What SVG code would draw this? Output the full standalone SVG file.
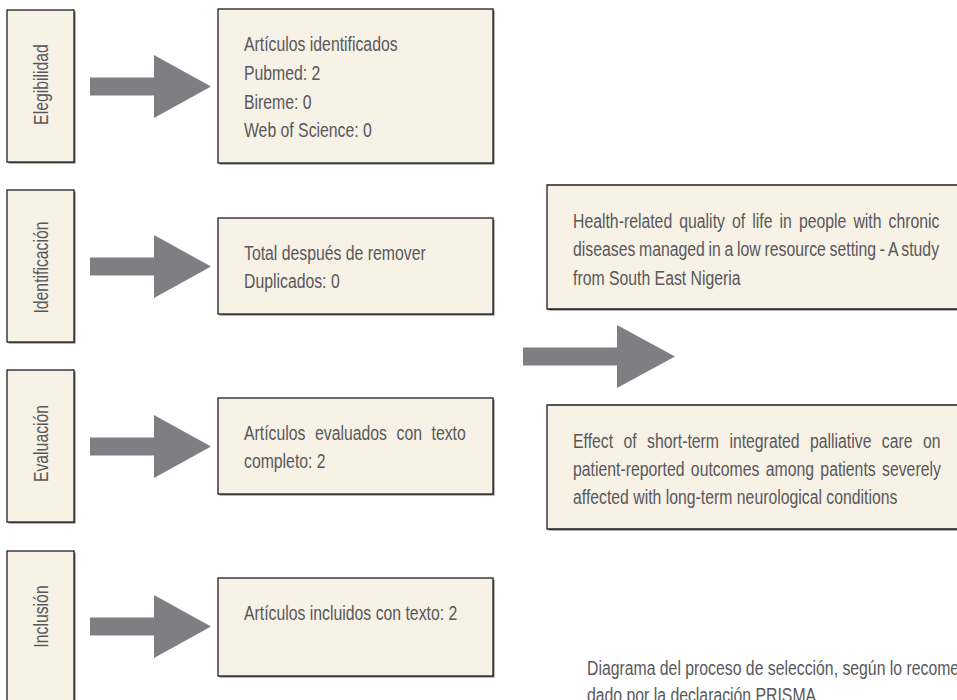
<svg xmlns="http://www.w3.org/2000/svg" width="957" height="700" viewBox="0 0 957 700">
  <style>
    .box { fill: #f7f1e6; stroke: #1f1f1f; stroke-width: 1.3; }
    .fill { fill: #f7f1e6; }
    .edge { fill: none; stroke: #1f1f1f; stroke-width: 1.3; }
    .shadow { fill: #6d6d6d; }
    .t { font-family: "Liberation Sans", Arial, sans-serif; font-size: 19.3px; fill: #58585b; }
    .lbl { text-anchor: middle; }
    .arrow { fill: #7f7f83; }
  </style>
  <defs>
    <path id="arr" d="M0,-9 H64 V-31.5 L121,0 L64,31.5 V9 H0 Z"/>
  </defs>
  <rect width="957" height="700" fill="#ffffff"/>

  <g id="lbl-elegibilidad">
    <rect class="shadow" x="8.5" y="11.5" width="67" height="152"/>
    <rect class="box" x="7" y="10" width="67" height="152"/>
    <text class="t lbl" transform="translate(48,84.5) rotate(-90) scale(0.8187,1)">Elegibilidad</text>
  </g>
  <g id="lbl-identificacion">
    <rect class="shadow" x="8.5" y="191.5" width="67" height="152"/>
    <rect class="box" x="7" y="190" width="67" height="152"/>
    <text class="t lbl" transform="translate(48,267.5) rotate(-90) scale(0.8187,1)">Identificación</text>
  </g>
  <g id="lbl-evaluacion">
    <rect class="shadow" x="8.5" y="371.5" width="67" height="152"/>
    <rect class="box" x="7" y="370" width="67" height="152"/>
    <text class="t lbl" transform="translate(48,443.5) rotate(-90) scale(0.8187,1)">Evaluación</text>
  </g>
  <g id="lbl-inclusion">
    <rect class="shadow" x="8.5" y="552.5" width="67" height="152"/>
    <rect class="box" x="7" y="551" width="67" height="152"/>
    <text class="t lbl" transform="translate(48,616.5) rotate(-90) scale(0.8187,1)">Inclusión</text>
  </g>

  <g id="box-identificados">
    <rect class="shadow" x="219.5" y="10.5" width="275" height="154"/>
    <rect class="box" x="218" y="9" width="275" height="154"/>
    <g transform="translate(244,0) scale(0.8187,1)">
      <text class="t" x="0" y="51.5">Artículos identificados</text>
      <text class="t" x="0" y="80">Pubmed: 2</text>
      <text class="t" x="0" y="109">Bireme: 0</text>
      <text class="t" x="0" y="137.5">Web of Science: 0</text>
    </g>
  </g>
  <g id="box-duplicados">
    <rect class="shadow" x="219.5" y="219.5" width="275" height="96"/>
    <rect class="box" x="218" y="218" width="275" height="96"/>
    <g transform="translate(244,0) scale(0.8187,1)">
      <text class="t" x="0" y="260">Total después de remover</text>
      <text class="t" x="0" y="288">Duplicados: 0</text>
    </g>
  </g>
  <g id="box-evaluados">
    <rect class="shadow" x="219.5" y="399.5" width="275" height="96"/>
    <rect class="box" x="218" y="398" width="275" height="96"/>
    <g transform="translate(244,0) scale(0.8187,1)">
      <text class="t" x="0" y="440" word-spacing="6.3">Artículos evaluados con texto</text>
      <text class="t" x="0" y="468">completo: 2</text>
    </g>
  </g>
  <g id="box-incluidos">
    <rect class="shadow" x="219.5" y="579.5" width="275" height="98"/>
    <rect class="box" x="218" y="578" width="275" height="98"/>
    <g transform="translate(244,0) scale(0.8187,1)">
      <text class="t" x="0" y="620">Artículos incluidos con texto: 2</text>
    </g>
  </g>

  <g id="box-study-1">
    <rect class="shadow" x="548.5" y="186.5" width="408.5" height="124"/>
    <rect class="fill" x="547" y="185" width="410" height="124"/>
    <path class="edge" d="M957,185 H547 V309 H957"/>
    <g transform="translate(573,0) scale(0.8187,1)">
      <text class="t" x="0" y="228" word-spacing="3.3">Health-related quality of life in people with chronic</text>
      <text class="t" x="0" y="256.5" word-spacing="-0.83">diseases managed in a low resource setting - A study</text>
      <text class="t" x="0" y="285">from South East Nigeria</text>
    </g>
  </g>
  <g id="box-study-2">
    <rect class="shadow" x="548.5" y="406.5" width="408.5" height="124"/>
    <rect class="fill" x="547" y="405" width="410" height="124"/>
    <path class="edge" d="M957,405 H547 V529 H957"/>
    <g transform="translate(573,0) scale(0.8187,1)">
      <text class="t" x="0" y="448" word-spacing="7.34">Effect of short-term integrated palliative care on</text>
      <text class="t" x="0" y="476.5" word-spacing="2.44">patient-reported outcomes among patients severely</text>
      <text class="t" x="0" y="504">affected with long-term neurological conditions</text>
    </g>
  </g>

  <g id="connectors">
    <use href="#arr" class="arrow" transform="translate(90,86.5)"/>
    <use href="#arr" class="arrow" transform="translate(90,266.5)"/>
    <use href="#arr" class="arrow" transform="translate(90,446.5)"/>
    <use href="#arr" class="arrow" transform="translate(90,626.5)"/>
    <path class="arrow" d="M523,347.5 H617 V325 L675,356.5 L617,388 V365.5 H523 Z"/>
  </g>

  <g id="caption" transform="translate(587,0) scale(0.8187,1)">
    <text class="t" x="0" y="675">Diagrama del proceso de selección, según lo recomer</text>
    <text class="t" x="0" y="702.5">dado por la declaración PRISMA</text>
  </g>
</svg>
